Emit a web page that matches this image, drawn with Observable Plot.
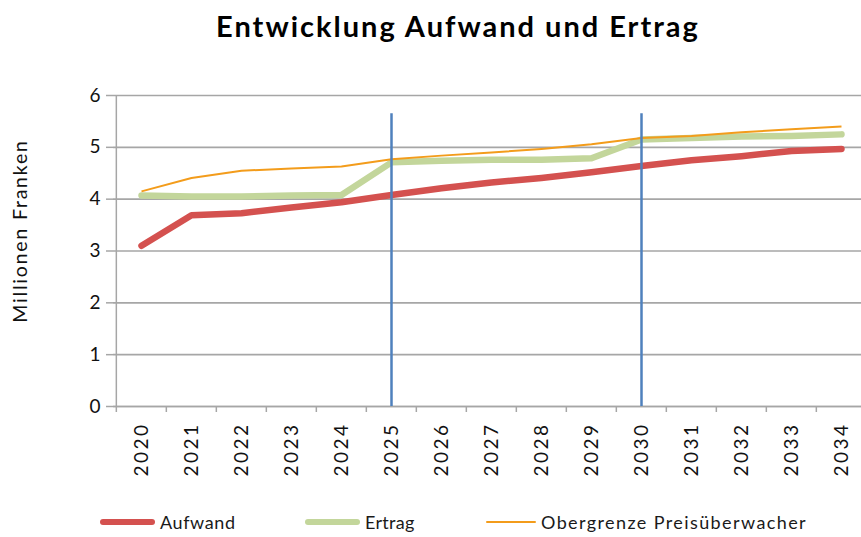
<!DOCTYPE html>
<html>
<head>
<meta charset="utf-8">
<script src="https://cdn.jsdelivr.net/npm/d3@7"></script>
<script src="https://cdn.jsdelivr.net/npm/@observablehq/plot@0.6"></script>
<style>
  html, body { margin: 0; padding: 0; background: #fff; overflow: hidden; }
  #wrap { position: relative; width: 861px; height: 537px; font-family: Lato, "Open Sans", sans-serif; }
  #title { position: absolute; left: 0; top: 8px; width: 916px; text-align: center; font-weight: 700; font-size: 29px; letter-spacing: 2px; color: #000; }
  #chart { position: absolute; left: 0; top: 60px; }
  #chart g[aria-label="x-axis tick label"] text { letter-spacing: 2.5px; }
  #chart g[aria-label="text"] text { letter-spacing: 1.8px; }
  .leg { position: absolute; top: 511px; font-size: 18px; color: #1a1a1a; display: flex; align-items: center; white-space: nowrap; }
  .leg span.sw { display: inline-block; margin-right: 5px; border-radius: 3px; }
</style>
</head>
<body>
<div id="wrap">
  <div id="title"></div>
  <div id="chart"></div>
  <div id="legend"></div>
</div>
<script>
const titleText = "Entwicklung Aufwand und Ertrag";
const yLabel = "Millionen Franken";
const years = ["2020","2021","2022","2023","2024","2025","2026","2027","2028","2029","2030","2031","2032","2033","2034"];
const aufwand =    [3.10, 3.69, 3.73, 3.84, 3.94, 4.08, 4.21, 4.32, 4.41, 4.52, 4.64, 4.75, 4.83, 4.93, 4.97];
const ertrag =     [4.07, 4.05, 4.05, 4.07, 4.08, 4.71, 4.74, 4.76, 4.76, 4.79, 5.15, 5.18, 5.21, 5.22, 5.25];
const obergrenze = [4.15, 4.41, 4.55, 4.59, 4.63, 4.77, 4.84, 4.90, 4.97, 5.06, 5.18, 5.22, 5.29, 5.35, 5.40];
const seriesNames = ["Aufwand", "Ertrag", "Obergrenze Preisüberwacher"];
const seriesColors = ["#d4514f", "#c3d69b", "#f39c1b"];
const seriesWidths = [6.5, 6.5, 2];
const markerYears = ["2025", "2030"];
const markerTop = 5.65;
const yTicks = [0, 1, 2, 3, 4, 5, 6];

document.getElementById("title").textContent = titleText;

const seriesValues = [aufwand, ertrag, obergrenze];
const rows = seriesNames.map((name, i) => years.map((yr, j) => ({series: name, year: yr, value: seriesValues[i][j]})));

const W = 861, H = 430, mL = 113, mR = -7;
const bw = (W - mR - mL) / years.length;
const grid = "#a6a6a6";

const chart = Plot.plot({
  width: W, height: H,
  marginTop: 35, marginBottom: 84, marginLeft: mL, marginRight: mR,
  style: {fontFamily: "Lato, 'Open Sans', sans-serif", background: "transparent", overflow: "hidden"},
  x: {type: "band", domain: years, padding: 0},
  y: {domain: [0, 6]},
  marks: [
    Plot.gridY(yTicks, {stroke: grid, strokeOpacity: 1, strokeWidth: 1.6}),
    Plot.axisY(yTicks, {tickSize: 7, stroke: grid, strokeWidth: 1.5, fontSize: 19, tickPadding: 6, label: null, color: "#111", tickFormat: d => String(d)}),
    Plot.axisX({tickSize: 6, stroke: grid, strokeWidth: 1.5, tickFormat: () => "", dx: -bw / 2, label: null}),
    Plot.axisX({tickSize: 0, tickRotate: -90, fontSize: 19, tickPadding: 16, label: null, color: "#111"}),
    Plot.ruleX([0], {x: () => years[0], dx: -bw / 2, stroke: grid, strokeWidth: 1.5}),
    Plot.ruleY([0], {stroke: grid, strokeWidth: 1.6}),
    Plot.text([yLabel], {frameAnchor: "left", textAnchor: "middle", dx: -93, dy: -20, rotate: -90, fontSize: 19.5, fill: "#111", text: d => d}),
    ...rows.map((r, i) => Plot.line(r, {x: "year", y: "value", stroke: seriesColors[i], strokeWidth: seriesWidths[i], strokeLinejoin: "round", strokeLinecap: i < 2 ? "round" : "butt"})),
    Plot.ruleX(markerYears, {x: d => d, y1: 0, y2: markerTop, stroke: "#4f81bd", strokeWidth: 2.5})
  ]
});
document.getElementById("chart").appendChild(chart);

// Legend
const legPos = [100, 305, 486];
const legSw = [55, 55, 50];
const legSpacing = ["0.6px", "0.3px", "1.4px"];
const legend = document.getElementById("legend");
seriesNames.forEach((name, i) => {
  const d = document.createElement("div");
  d.className = "leg";
  d.style.left = legPos[i] + "px";
  const sw = document.createElement("span");
  sw.className = "sw";
  sw.style.width = legSw[i] + "px";
  sw.style.height = seriesWidths[i] + "px";
  sw.style.background = seriesColors[i];
  d.appendChild(sw);
  const t = document.createElement("span");
  t.textContent = name;
  t.style.letterSpacing = legSpacing[i];
  d.appendChild(t);
  legend.appendChild(d);
});
</script>
</body>
</html>
